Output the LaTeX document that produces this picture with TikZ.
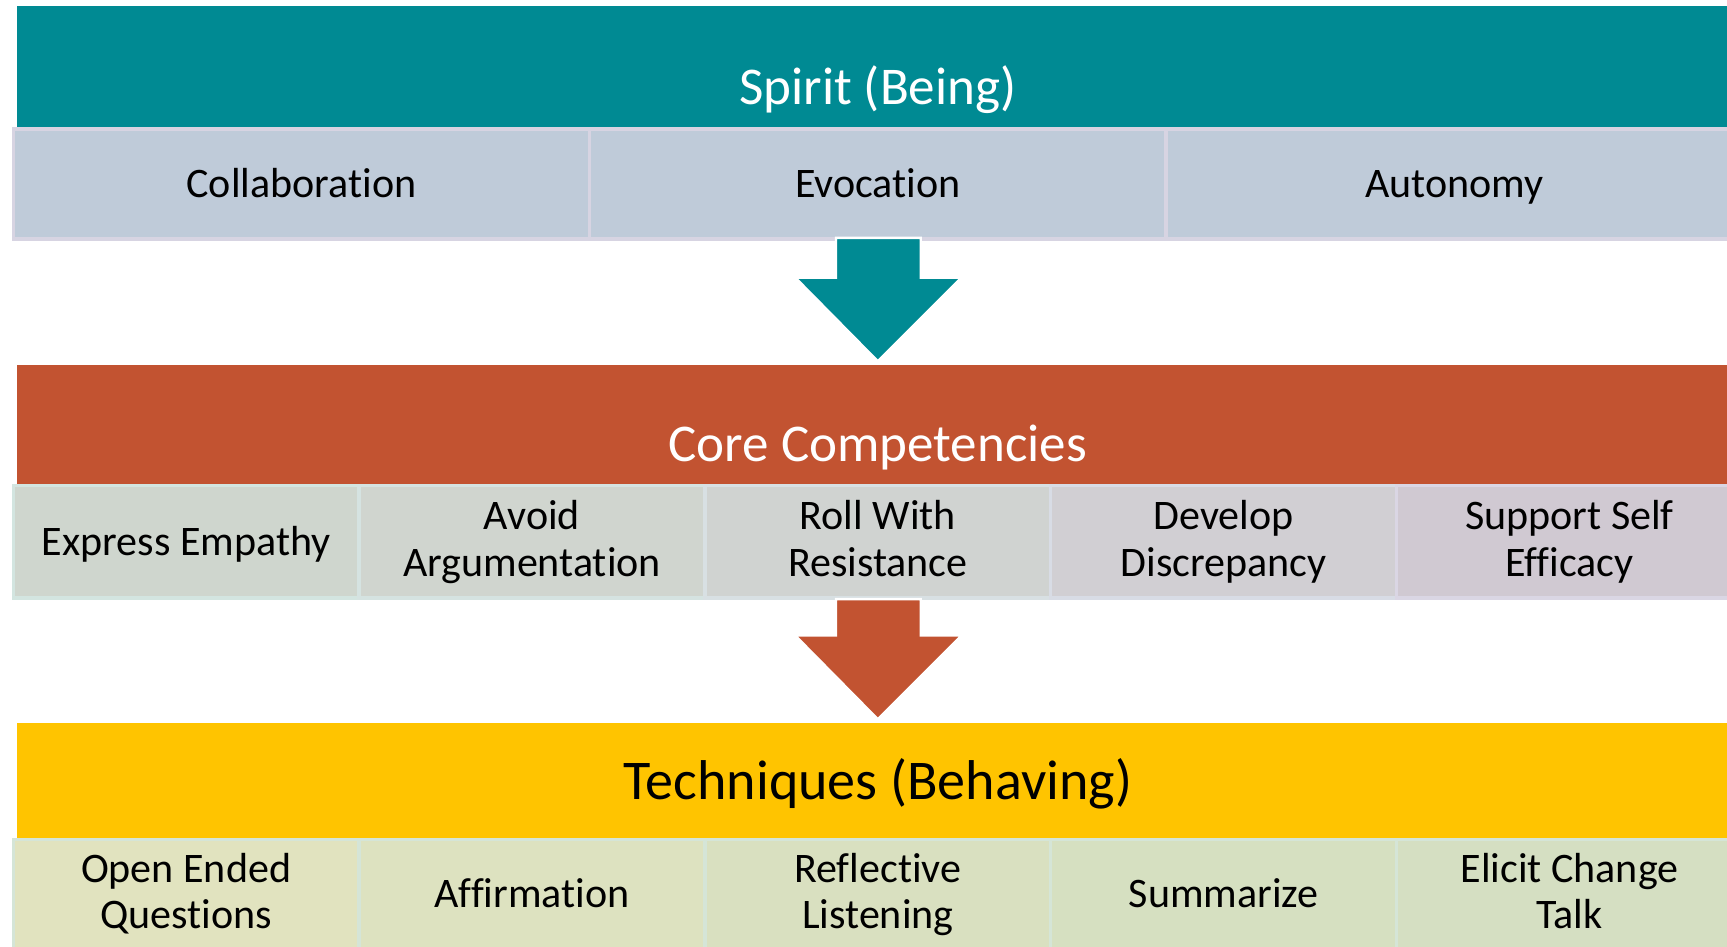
\documentclass[tikz,border=0pt]{standalone}
\usepackage{fontspec}
\setmainfont{Carlito}[RawFeature=-liga]
\definecolor{spiritteal}{HTML}{008A93}
\definecolor{coreorange}{HTML}{C25331}
\definecolor{techyellow}{HTML}{FFC400}
\definecolor{spiritcell}{HTML}{BFCBD9}
\definecolor{spiritedge}{HTML}{D7D4E2}
\definecolor{coreA}{HTML}{CFD6CE}
\definecolor{coreB}{HTML}{D0D5CF}
\definecolor{coreC}{HTML}{D0D3D1}
\definecolor{coreD}{HTML}{D1CFD3}
\definecolor{coreE}{HTML}{D0C9D2}
\definecolor{coreedgeA}{HTML}{D3E5E0}
\definecolor{coreedgeB}{HTML}{D5E3E1}
\definecolor{coreedgeC}{HTML}{D8E0E3}
\definecolor{coreedgeD}{HTML}{D8DCE5}
\definecolor{coreedgeE}{HTML}{DAD6E4}
\definecolor{techA}{HTML}{E1E3BF}
\definecolor{techB}{HTML}{DDE2C0}
\definecolor{techC}{HTML}{D9E0C0}
\definecolor{techD}{HTML}{D6E0C1}
\definecolor{techE}{HTML}{D5DFC2}
\definecolor{techedge}{HTML}{D5E5D7}
\tikzset{
  cell/.style 2 args={fill=#1, draw=#2, line width=1.7pt, inner sep=0pt,
    align=center, font=\fontsize{21}{23.1}\selectfont,
    execute at begin node={\rule{0pt}{0.8em}}, execute at end node=\vphantom{Ag}}
}
\begin{document}
\begin{tikzpicture}[
    x=0.55pt, y=-0.55pt,
  band/.style={minimum width=1564*0.55pt, inner sep=0pt},
  blab/.style={anchor=base, text=white, font=\fontsize{26.5}{30}\selectfont},
  darr/.style={draw=white, line width=1.2pt}
]
\useasboundingbox (0,0) rectangle (1568,859);
\clip (0,0) rectangle (1568,859);
\fill[white] (0,0) rectangle (1568,859);

% --- Spirit (Being) ---
\node[band, fill=spiritteal, minimum height=113*0.55pt] (spirit) at (797,61.5) {};
\node[blab] (spiritT) at (797,95) {Spirit (Being)};
\node[cell={spiritcell}{spiritedge}, minimum width=523.3*0.55pt, minimum height=100*0.55pt] (collab) at (273.7,167) {Collaboration};
\node[cell={spiritcell}{spiritedge}, minimum width=523.3*0.55pt, minimum height=100*0.55pt] (evoc) at (797,167) {Evocation};
\node[cell={spiritcell}{spiritedge}, minimum width=523.3*0.55pt, minimum height=100*0.55pt] (auto) at (1320.3,167) {Autonomy};

% --- Core Competencies ---
\node[band, fill=coreorange, minimum height=110*0.55pt] (core) at (797,386) {};
\node[blab] (coreT) at (797,419) {Core Competencies};
\node[cell={coreA}{coreedgeA}, minimum width=314*0.55pt, minimum height=102*0.55pt] (empathy) at (169,492) {Express Empathy};
\node[cell={coreB}{coreedgeB}, minimum width=314*0.55pt, minimum height=102*0.55pt] (argue) at (483,492) {Avoid\\Argumentation};
\node[cell={coreC}{coreedgeC}, minimum width=314*0.55pt, minimum height=102*0.55pt] (resist) at (797,492) {Roll With\\Resistance};
\node[cell={coreD}{coreedgeD}, minimum width=314*0.55pt, minimum height=102*0.55pt] (discrep) at (1111,492) {Develop\\Discrepancy};
\node[cell={coreE}{coreedgeE}, minimum width=314*0.55pt, minimum height=102*0.55pt] (selfeff) at (1425,492) {Support Self\\Efficacy};

% --- Techniques (Behaving) ---
\node[band, fill=techyellow, minimum height=106*0.55pt] (tech) at (797,709) {};
\node[blab, text=black, font=\fontsize{28}{32}\selectfont] (techT) at (797,726) {Techniques (Behaving)};
\node[cell={techA}{techedge}, minimum width=314*0.55pt, minimum height=100*0.55pt] (openq) at (169,812) {Open Ended\\Questions};
\node[cell={techB}{techedge}, minimum width=314*0.55pt, minimum height=100*0.55pt] (affirm) at (483,812) {Affirmation};
\node[cell={techC}{techedge}, minimum width=314*0.55pt, minimum height=100*0.55pt] (reflect) at (797,812) {Reflective\\Listening};
\node[cell={techD}{techedge}, minimum width=314*0.55pt, minimum height=100*0.55pt] (summ) at (1111,812) {Summarize};
\node[cell={techE}{techedge}, minimum width=314*0.55pt, minimum height=100*0.55pt] (elicit) at (1425,812) {Elicit Change\\Talk};

% --- block arrows ---
\filldraw[darr, fill=spiritteal] (759,216) -- (836,216) -- (836,252) -- (873,252)
  -- (797,328) -- (722,252) -- (759,252) -- cycle;
\filldraw[darr, fill=coreorange] (759,544) -- (836,544) -- (836,577) -- (873,577)
  -- (797,653) -- (722,577) -- (759,577) -- cycle;
\end{tikzpicture}
\end{document}
